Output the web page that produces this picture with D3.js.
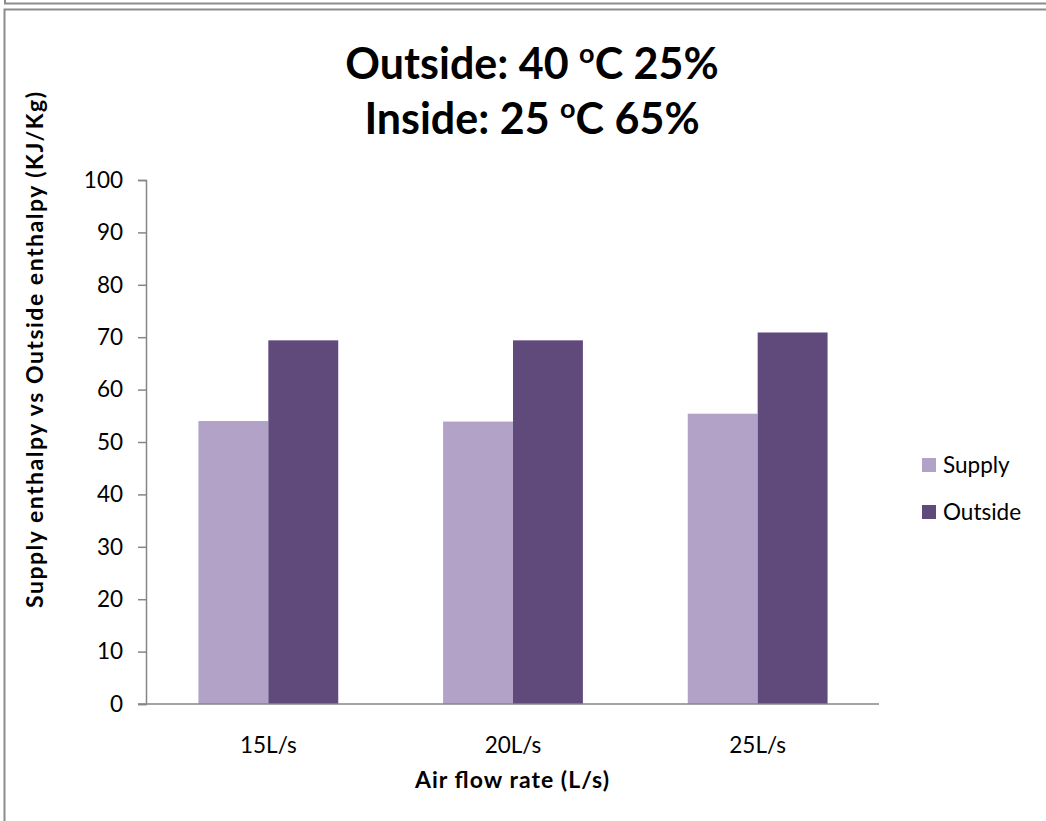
<!DOCTYPE html>
<html>
<head>
<meta charset="utf-8">
<script src="https://cdn.jsdelivr.net/npm/d3@7"></script>
<style>
  html, body { margin: 0; padding: 0; background: #fff; }
  svg { display: block; }
</style>
</head>
<body>
<div id="chart"></div>
<script>
// data
const categories = ["15L/s", "20L/s", "25L/s"];
const seriesNames = ["Supply", "Outside"];
const supplyValues = [54.0, 53.9, 55.4];
const outsideValues = [69.4, 69.4, 70.9];
const yTicks = [0, 10, 20, 30, 40, 50, 60, 70, 80, 90, 100];

const colors = ["#B3A2C7", "#604A7B"];
const font = "Lato, 'Open Sans', sans-serif";
const labelSize = 22.5;

const width = 1046, height = 821;
const marginLeft = 146, marginRight = 166, marginTop = 180, marginBottom = 117;

const svg = d3.select("#chart").append("svg")
    .attr("width", width)
    .attr("height", height)
    .attr("viewBox", [0, 0, width, height]);

// frames around the chart area (from the document page)
svg.append("path")
    .attr("fill", "none")
    .attr("stroke", "#8c8c8c")
    .attr("stroke-width", 2)
    .attr("d", "M5,0 V3.5 H1046");
svg.append("path")
    .attr("fill", "none")
    .attr("stroke", "#8c8c8c")
    .attr("stroke-width", 2)
    .attr("d", "M1046,9.5 H4.5 V821");

// scales
const x0 = d3.scaleBand(categories, [marginLeft, width - marginRight]);
const x1 = d3.scaleBand(seriesNames, [0, x0.bandwidth()]).paddingOuter(0.75).paddingInner(0);
const y = d3.scaleLinear([0, 100], [height - marginBottom, marginTop]);

const rows = categories.map((c, i) => ({cat: c, vals: [supplyValues[i], outsideValues[i]]}));

// bars
svg.append("g")
  .selectAll("g")
  .data(rows)
  .join("g")
    .attr("transform", d => `translate(${x0(d.cat)},0)`)
  .selectAll("rect")
  .data(d => d.vals.map((v, j) => ({name: seriesNames[j], value: v, j})))
  .join("rect")
    .attr("x", d => x1(d.name))
    .attr("y", d => y(d.value))
    .attr("width", x1.bandwidth())
    .attr("height", d => y(0) - y(d.value))
    .attr("fill", d => colors[d.j]);

// y axis
svg.append("g")
    .attr("transform", `translate(${marginLeft},0)`)
    .call(d3.axisLeft(y).tickValues(yTicks).tickSize(8).tickSizeOuter(8).tickPadding(15))
    .call(g => g.select(".domain").attr("stroke", "#868686").attr("stroke-width", 1.5))
    .call(g => g.selectAll(".tick line").attr("stroke", "#868686").attr("stroke-width", 1.5))
    .call(g => g.selectAll(".tick text")
        .attr("font-family", font)
        .attr("font-size", labelSize)
        .attr("fill", "#000"));

// x axis
svg.append("g")
    .attr("transform", `translate(0,${y(0)})`)
    .call(d3.axisBottom(x0).tickSize(0).tickPadding(33))
    .call(g => g.select(".domain")
        .attr("d", `M${marginLeft - 8},0H${width - marginRight - 1}`)
        .attr("stroke", "#868686").attr("stroke-width", 1.5))
    .call(g => g.selectAll(".tick text")
        .attr("font-family", font)
        .attr("font-size", labelSize)
        .attr("fill", "#000"));

// title
const title = svg.append("g")
    .attr("font-family", font)
    .attr("font-weight", "bold")
    .attr("font-size", 43)
    .attr("text-anchor", "middle")
    .attr("fill", "#000");

[["Outside: 40 ", "C 25%", 79], ["Inside: 25 ", "C 65%", 134]].forEach(([a, b, yy]) => {
  const t = title.append("text").attr("x", 532).attr("y", yy);
  t.append("tspan").text(a);
  t.append("tspan").attr("font-size", 27).attr("dy", -16).text("o");
  t.append("tspan").attr("dy", 16).text(b);
});

// axis titles
svg.append("text")
    .attr("x", 512)
    .attr("y", 788)
    .attr("text-anchor", "middle")
    .attr("font-family", font)
    .attr("font-weight", "bold")
    .attr("font-size", 23)
    .attr("textLength", 194)
    .text("Air flow rate (L/s)");

svg.append("text")
    .attr("transform", `translate(43,350) rotate(-90)`)
    .attr("text-anchor", "middle")
    .attr("font-family", font)
    .attr("font-weight", "bold")
    .attr("font-size", 23)
    .attr("textLength", 516)
    .text("Supply enthalpy vs Outside enthalpy (KJ/Kg)");

// legend
const legend = svg.append("g")
    .attr("font-family", font)
    .attr("font-size", labelSize)
  .selectAll("g")
  .data(seriesNames)
  .join("g")
    .attr("transform", (d, i) => `translate(922,${458 + i * 47})`);
legend.append("rect")
    .attr("width", 14)
    .attr("height", 14)
    .attr("fill", (d, i) => colors[i]);
legend.append("text")
    .attr("x", 21)
    .attr("y", 15)
    .text(d => d);
</script>
</body>
</html>
